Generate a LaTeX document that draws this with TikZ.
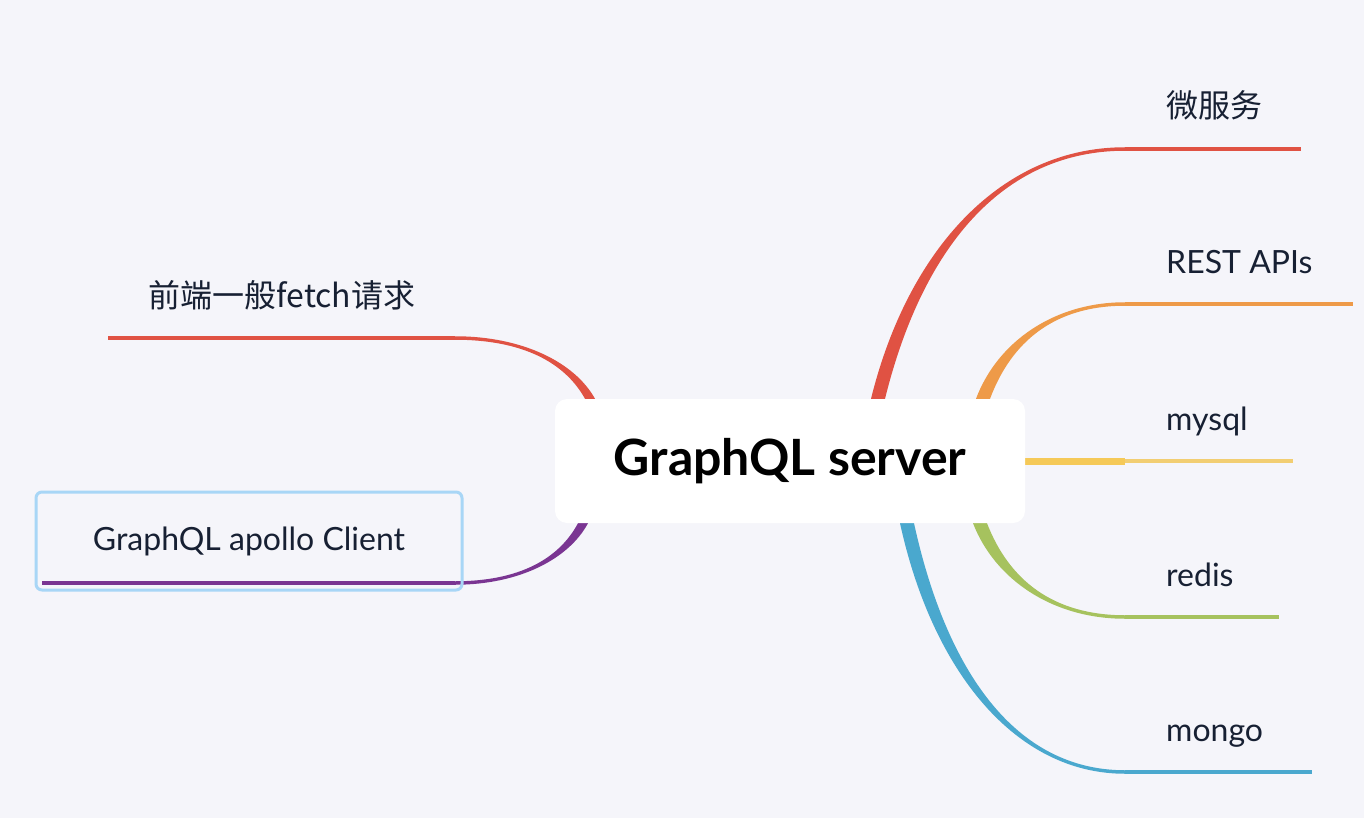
\documentclass[tikz,border=0pt]{standalone}
\usepackage{fontspec}
\setmainfont{Lato}
\newfontfamily\cjk{Noto Sans CJK SC}
\usetikzlibrary{calc,backgrounds}
\definecolor{bg}{HTML}{F5F5FA}
\definecolor{ink}{HTML}{172033}
\definecolor{brRed}{HTML}{E05243}
\definecolor{brOrange}{HTML}{EE9A48}
\definecolor{brYellow}{HTML}{F5C958}
\definecolor{brYellowThin}{HTML}{F2CE72}
\definecolor{brGreen}{HTML}{A6C25E}
\definecolor{brBlue}{HTML}{4AA8CE}
\definecolor{brPurple}{HTML}{7A3592}
\definecolor{selBlue}{HTML}{A8D6F6}
%% tapered branch: colour, start, elbow, half width at start, half width at elbow
\newcommand\twig[5]{%
  \fill[#1] let \p1=(#2), \p2=(#3) in
    ({\x1-#4pt},\y1) .. controls ({0.85*\x1+0.15*\x2-#4pt},{0.4*\y1+0.6*\y2}) and ({0.5*\x1+0.5*\x2},{\y2+(#5pt)}) .. ({\x2},{\y2+(#5pt)})
    -- ({\x2},{\y2-(#5pt)}) .. controls ({0.5*\x1+0.5*\x2},{\y2-(#5pt)}) and ({0.85*\x1+0.15*\x2+#4pt},{0.4*\y1+0.6*\y2}) .. ({\x1+#4pt},\y1) -- cycle;}
\begin{document}
\begin{tikzpicture}[x=1pt,y=-1pt,
    lbl/.style={font=\fontsize{32}{38}\selectfont, text=ink, inner sep=0pt},
    hub/.style={fill=white, rounded corners=12pt, minimum width=470pt, minimum height=124pt,
      font=\fontsize{50}{58}\selectfont\bfseries, text=black}]
  \node[hub] (srv) at (790,461) {GraphQL server};
  \begin{scope}[on background layer]
    \fill[bg] (0,0) rectangle (1364,818);
    %% Right branches
    \foreach \nm/\col/\anc/\dx/\ky/\ex/\s/\txt in {
        ms/brRed/north/88/149/1301/1/{\cjk 微服务},
        rest/brOrange/north/193/304/1353/1/REST APIs,
        redis/brGreen/south/190/617/1279/-1/redis,
        mongo/brBlue/south/117/772/1312/-1/mongo}
    {
      \coordinate (\nm-k) at (1125,\ky);
      \coordinate (\nm-e) at (\ex,\ky);
      \twig{\col}{$(srv.\anc)+(\dx,0)$}{\nm-k}{7}{\s*1.75}
      \draw[\col, line width=3.5pt] (\nm-k) -- (\nm-e);
      \node[lbl, anchor=base west] (\nm) at ($(\nm-k)+(41,-31)$) {\txt};
    }
    \coordinate (sql-k) at (1125,461);
    \coordinate (sql-e) at (1293,461);
    \draw[brYellow, line width=7pt] (srv.east) -- (sql-k);
    \draw[brYellowThin, line width=3.5pt] (sql-k) -- (sql-e);
    \node[lbl, anchor=base west] (sql) at ($(sql-k)+(41,-31)$) {mysql};
    %% Left branches
    \coordinate (fe-k) at (455,338);
    \coordinate (fe-e) at (108,338);
    \twig{brRed}{$(srv.north)+(-200,0)$}{fe-k}{5}{-1.75}
    \draw[brRed, line width=3.5pt] (fe-k) -- (fe-e);
    \node[lbl, anchor=base] (fe) at (282,307) {\cjk 前端一般fetch请求};
    \coordinate (ap-k) at (455,583);
    \coordinate (ap-e) at (42,583);
    \twig{brPurple}{$(srv.south)+(-207,0)$}{ap-k}{5}{1.75}
    \draw[brPurple, line width=3.5pt] (ap-k) -- (ap-e);
    \node[lbl, draw=selBlue, line width=3pt, rounded corners=6pt,
      minimum width=426pt, minimum height=98pt] (apollo) at (249,541) {GraphQL apollo Client};
  \end{scope}
\end{tikzpicture}
\end{document}
